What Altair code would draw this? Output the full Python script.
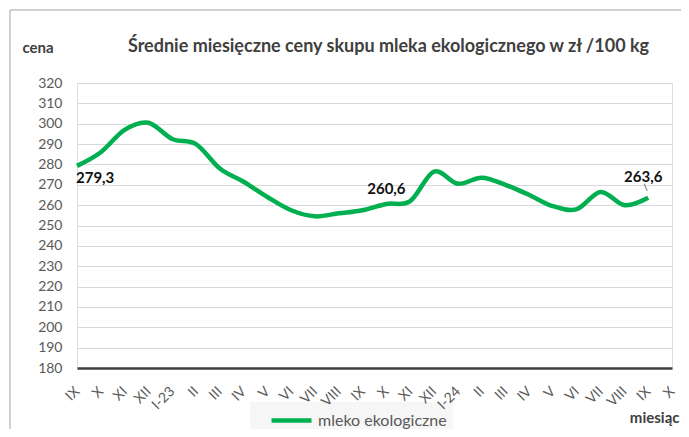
import json
import altair as alt
import pandas as pd

# ---- data ----
months = ["IX", "X", "XI", "XII", "I-23", "II", "III", "IV", "V", "VI", "VII", "VIII",
          "IX", "X", "XI", "XII", "I-24", "II", "III", "IV", "V", "VI", "VII", "VIII",
          "IX", "X"]
prices = [279.3, 286.0, 297.0, 300.5, 292.5, 290.0, 278.0, 271.5, 264.0, 257.5, 254.5, 256.0,
          257.5, 260.6, 262.0, 276.5, 270.5, 273.5, 270.0, 265.0, 259.5, 258.0, 266.5, 260.0,
          263.6, None]
series_name = "mleko ekologiczne"
labeled_idx = [0, 13, 24]
leader_idx = [24]
y_ticks = list(range(180, 321, 10))

df = pd.DataFrame({"idx": list(range(len(months))), "cena": prices, "seria": series_name})
df["etykieta"] = df["cena"].map(lambda v: "" if pd.isna(v) else f"{v:.1f}".replace(".", ","))

W, H = 595, 285
FONT = "Lato"
GREEN = "#00B050"

x_enc = alt.X(
    "idx:O",
    scale=alt.Scale(type="point", padding=0, domain=list(range(len(months)))),
    axis=alt.Axis(
        labelExpr=f"{json.dumps(months)}[datum.value]",
        labelAngle=-45, labelAlign="right", labelBaseline="middle", labelPadding=21,
        labelOverlap=False, ticks=False, grid=False, zindex=2,
        domainColor="#404040", domainWidth=2.5,
        labelFontSize=14, labelColor="#595959", labelFont=FONT,
        title="miesiąc", titleX=602, titleY=49, titleAlign="right", titleBaseline="middle",
        titleFontSize=15, titleFontWeight="bold", titleColor="#404040", titleFont=FONT,
    ),
)
y_enc = alt.Y(
    "cena:Q",
    scale=alt.Scale(domain=[180, 320], nice=False, zero=False),
    axis=alt.Axis(
        values=y_ticks, domain=False, ticks=False, labelPadding=15,
        gridColor="#d9d9d9", gridWidth=1.2,
        labelFontSize=14, labelColor="#595959", labelFont=FONT,
        title="cena", titleAngle=0, titleX=-55, titleY=-36, titleAlign="left",
        titleBaseline="middle", titleFontSize=15, titleFontWeight="bold",
        titleColor="#404040", titleFont=FONT,
    ),
)

line = alt.Chart(df).mark_line(strokeWidth=4.5, interpolate="cardinal").encode(
    x=x_enc,
    y=y_enc,
    color=alt.Color(
        "seria:N",
        scale=alt.Scale(range=[GREEN]),
        legend=alt.Legend(
            title=None, orient="none", legendX=173, legendY=319, zindex=0,
            symbolType="M-2,0L2,0", symbolStrokeWidth=4.5, symbolSize=400,
            symbolOffset=23, labelOffset=14,
            labelFontSize=16, labelColor="#595959", labelFont=FONT,
            fillColor="#f6f6f6", padding=6,
        ),
    ),
)

label_styles = {
    labeled_idx[0]: dict(align="left", dx=-1, dy=12),
    labeled_idx[1]: dict(align="center", dx=0, dy=-15),
    labeled_idx[2]: dict(align="center", dx=-5, dy=-21),
}
text_layers = []
for i in labeled_idx:
    text_layers.append(
        alt.Chart(df).transform_filter(f"datum.idx == {i}").mark_text(
            font=FONT, fontSize=15, fontWeight="bold", color="#111111",
            baseline="middle", **label_styles[i]
        ).encode(x=x_enc, y=y_enc, text="etykieta:N")
    )

# short grey leader line from the last data label to its point
leader = alt.Chart(df).transform_filter(
    alt.FieldOneOfPredicate(field="idx", oneOf=leader_idx)
).mark_point(
    shape="M-0.4,-1.4L-0.1,-0.7", size=400, filled=False,
    stroke="#8c8c8c", strokeWidth=1.2, opacity=1,
).encode(x=x_enc, y=y_enc)

one = alt.Data(values=[{"a": 1}])
frame_v = alt.Chart(one).mark_rule(color="#c0c0c0", strokeWidth=1.5).encode(
    x=alt.value(-67), y=alt.value(-73), y2=alt.value(H + 80))
frame_h = alt.Chart(one).mark_rule(color="#c0c0c0", strokeWidth=1.5).encode(
    y=alt.value(-73), x=alt.value(-67), x2=alt.value(W + 40))

chart = alt.layer(frame_v, frame_h, line, leader, *text_layers).properties(
    width=W,
    height=H,
    title=alt.TitleParams(
        "Średnie miesięczne ceny skupu mleka ekologicznego w zł /100 kg",
        font=FONT, fontSize=18, fontWeight="bold", color="#404040",
        anchor="middle", frame="group", dx=14, offset=-65, baseline="bottom",
    ),
    padding={"left": 69, "top": 75, "right": 9, "bottom": 61},
    autosize=alt.AutoSizeParams(type="none"),
).configure_view(stroke=None).configure(font=FONT, background="white")

chart.save("out.html", embed_options={"renderer": "svg", "actions": False})
